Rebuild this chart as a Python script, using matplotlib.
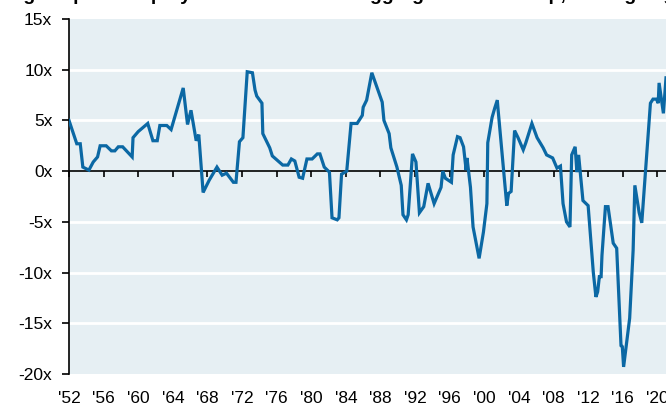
import numpy as np
import matplotlib.pyplot as plt

plt.rcParams['font.family'] = ['Liberation Sans', 'DejaVu Sans']

# values (year, multiple)
years = [1952.0, 1952.9, 1953.3, 1953.6, 1954.3, 1954.8, 1955.3, 1955.6, 1956.3, 1956.9,
         1957.3, 1957.7, 1958.2, 1959.3, 1959.4, 1960.0, 1961.1, 1961.7, 1962.2, 1962.5,
         1963.3, 1963.8, 1965.2, 1965.7, 1966.1, 1966.7, 1967.0, 1967.5, 1968.2, 1969.1,
         1969.7, 1970.2, 1971.0, 1971.3, 1971.7, 1972.1, 1972.6, 1973.2, 1973.5, 1973.7,
         1974.3, 1974.4, 1975.2, 1975.5, 1976.7, 1977.3, 1977.7, 1978.1, 1978.6, 1979.0,
         1979.5, 1980.1, 1980.7, 1981.0, 1981.5, 1982.1, 1982.4, 1983.0, 1983.2, 1983.5,
         1984.1, 1984.6, 1985.3, 1985.9, 1986.0, 1986.4, 1987.0, 1988.2, 1988.4, 1989.0,
         1989.2, 1989.9, 1990.4, 1990.6, 1991.0, 1991.2, 1991.7, 1992.1, 1992.5, 1993.0,
         1993.5, 1994.2, 1995.0, 1995.2, 1995.5, 1996.2, 1996.4, 1996.9, 1997.2, 1997.6,
         1997.9, 1998.0, 1998.4, 1998.7, 1998.9, 1999.4, 1999.9, 2000.3, 2000.4, 2000.9,
         2001.2, 2001.5, 2001.6, 2002.6, 2002.8, 2003.1, 2003.5, 2003.9, 2004.5, 2004.8,
         2005.5, 2006.1, 2006.8, 2007.2, 2007.9, 2008.4, 2008.8, 2009.1, 2009.5, 2009.9,
         2010.1, 2010.5, 2010.7, 2010.9, 2011.4, 2012.0, 2012.6, 2012.9, 2013.1, 2013.3,
         2013.5, 2013.6, 2014.0, 2014.3, 2014.9, 2015.3, 2015.8, 2015.95, 2016.1, 2016.8,
         2017.2, 2017.4, 2017.9, 2018.2, 2019.2, 2019.5, 2019.9, 2020.1, 2020.2, 2020.7,
         2021.0]
multiple = [5.0, 2.7, 2.7, 0.4, 0.1, 0.9, 1.4, 2.5, 2.5, 2.0,
            2.0, 2.4, 2.4, 1.4, 3.3, 3.9, 4.7, 3.0, 3.0, 4.5,
            4.5, 4.1, 8.2, 4.6, 6.0, 3.0, 3.6, -2.1, -0.9, 0.4,
            -0.4, -0.2, -1.1, -1.1, 2.9, 3.3, 9.8, 9.7, 8.0, 7.4,
            6.7, 3.7, 2.3, 1.5, 0.6, 0.6, 1.2, 1.0, -0.6, -0.7,
            1.2, 1.2, 1.7, 1.7, 0.4, -0.1, -4.6, -4.8, -4.6, -0.3,
            0.0, 4.7, 4.7, 5.5, 6.3, 7.0, 9.7, 6.8, 5.0, 3.7,
            2.3, 0.4, -1.4, -4.3, -4.8, -4.3, 1.7, 0.9, -4.1, -3.5,
            -1.2, -3.2, -1.6, 0.0, -0.7, -1.1, 1.6, 3.4, 3.3, 2.4,
            0.1, 1.3, -1.6, -5.5, -6.4, -8.6, -6.0, -3.2, 2.8, 5.3,
            6.2, 7.0, 6.0, -3.4, -2.2, -2.0, 4.0, 3.3, 2.1, 2.8,
            4.7, 3.3, 2.3, 1.6, 1.3, 0.3, 0.5, -3.2, -5.0, -5.5,
            1.6, 2.4, -0.1, 1.6, -2.9, -3.4, -10.0, -12.4, -11.9, -10.4,
            -10.4, -8.3, -3.5, -3.5, -7.1, -7.6, -17.2, -17.3, -19.3, -14.5,
            -7.8, -1.4, -4.1, -5.1, 6.7, 7.1, 7.1, 6.7, 8.7, 5.7,
            9.2]

tick_years = list(range(1952, 2021, 4))
tick_labels = ["'%02d" % (y % 100) for y in tick_years]
y_ticks = [15, 10, 5, 0, -5, -10, -15, -20]
y_labels = ['%dx' % v for v in y_ticks]

bg = '#e6eff3'
blue = '#0b68a4'

fig = plt.figure(figsize=(6.66, 4.04), dpi=100)
ax = fig.add_axes([69/666, 30/404, 597/666, 355/404])
ax.set_facecolor(bg)

ax.set_xlim(1952, 2021)
ax.set_ylim(-20, 15)

for v in y_ticks:
    if v not in (0, 15, -20):
        ax.axhline(v, color='white', lw=2, zorder=1)
ax.axhline(0, color='black', lw=1.2, zorder=2)

ax.plot(years, multiple, color=blue, lw=2.3, zorder=3, solid_joinstyle='miter')

for s in ['top', 'right']:
    ax.spines[s].set_visible(False)
ax.spines['left'].set_color('black')
ax.spines['left'].set_linewidth(1.2)
ax.spines['bottom'].set_position(('data', 0))
ax.spines['bottom'].set_visible(False)

ax.set_yticks(y_ticks)
ax.set_yticklabels(y_labels)
ax.tick_params(axis='y', direction='out', length=5, width=1.2, pad=7, labelsize=12.5)

ax.set_xticks(tick_years)
ax.tick_params(axis='x', direction='out', length=4, width=1.2, labelbottom=False)

sec = ax.secondary_xaxis('bottom')
sec.set_xticks(tick_years)
sec.set_xticklabels(tick_labels)
sec.tick_params(length=0, pad=12, labelsize=12.5)
sec.spines['bottom'].set_visible(False)

# title sits mostly above the crop, only descenders show as in the reference
fig.text(-0.01, 1 + 0.5/404, 'Large cap: Net equity issuance as % of aggregate market cap, trailing avg.',
         fontsize=14, fontweight='bold', va='baseline', ha='left')

fig.savefig('out.png', dpi=100)
